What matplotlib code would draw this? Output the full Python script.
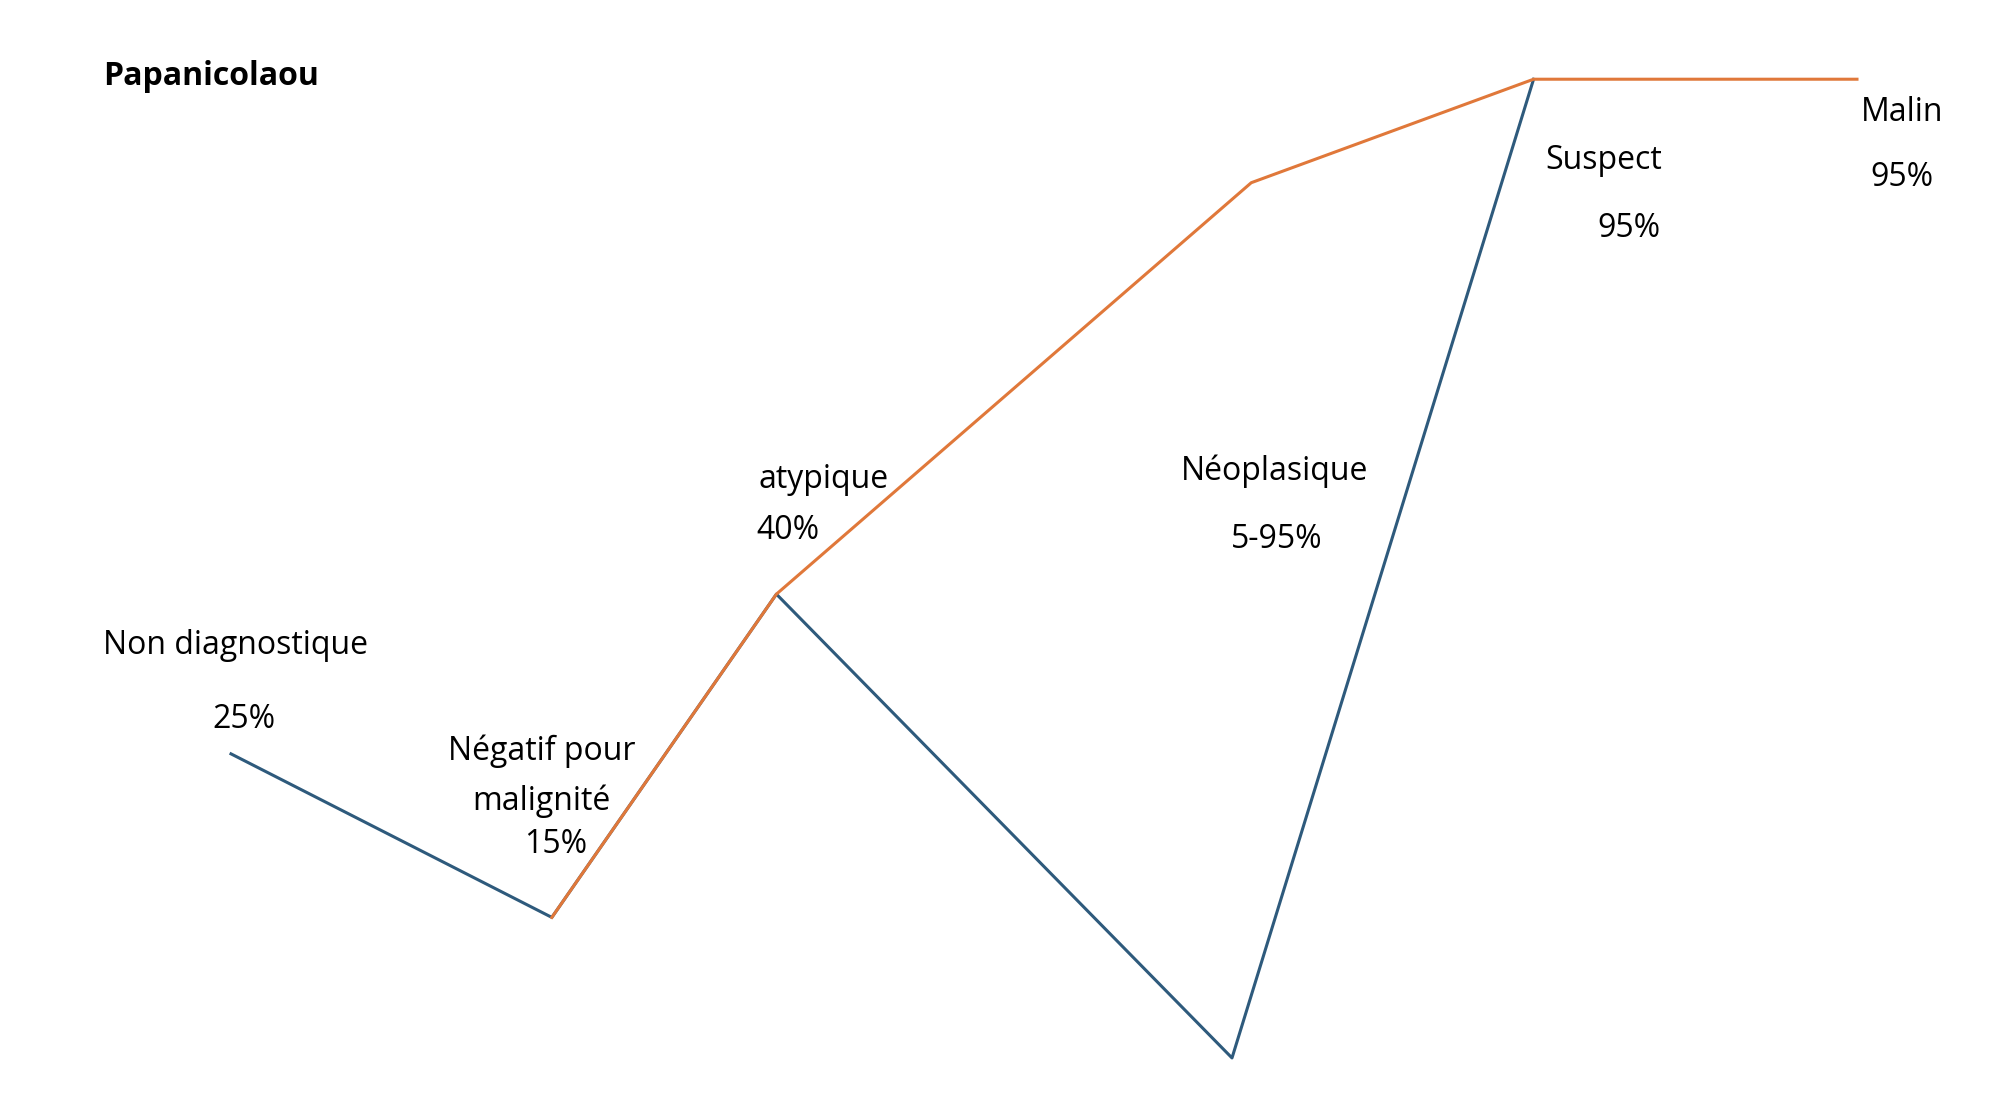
import matplotlib
matplotlib.use('Agg')
import matplotlib.pyplot as plt

# reference frame: 1560 x 875 units, y down
blue_x = [180, 430, 605, 960, 1195]
blue_y = [590, 718, 465, 828, 62]
orange_x = [430, 605, 975, 1195, 1447]
orange_y = [718, 465, 143, 62, 62]

labels = [
    ("Papanicolaou", 80, 60, 'left', 'bold'),
    ("Non diagnostique", 80, 505, 'left', 'normal'),
    ("25%", 190, 563, 'center', 'normal'),
    ("Négatif pour", 422, 588, 'center', 'normal'),
    ("malignité", 422, 627, 'center', 'normal'),
    ("15%", 433, 661, 'center', 'normal'),
    ("atypique", 642, 375, 'center', 'normal'),
    ("40%", 614, 415, 'center', 'normal'),
    ("Néoplasique", 993, 369, 'center', 'normal'),
    ("5-95%", 995, 422, 'center', 'normal'),
    ("Suspect", 1250, 126, 'center', 'normal'),
    ("95%", 1269, 179, 'center', 'normal'),
    ("Malin", 1482, 88, 'center', 'normal'),
    ("95%", 1482, 139, 'center', 'normal'),
]

plt.rcParams['font.family'] = ['Open Sans', 'DejaVu Sans']
fig = plt.figure(figsize=(20.02, 11.18), dpi=100)
ax = fig.add_axes([0, 0, 1, 1])
ax.set_xlim(0, 1560)
ax.set_ylim(875, 0)
ax.axis('off')

ax.plot(blue_x, blue_y, color='#2e5a7c', lw=2.2)
ax.plot(orange_x, orange_y, color='#e0783a', lw=2.2)

for txt, x, y, ha, w in labels:
    ax.text(x, y, txt, ha=ha, va='center', fontsize=23, fontweight=w, color='black')

fig.savefig('out.png', dpi=100)
